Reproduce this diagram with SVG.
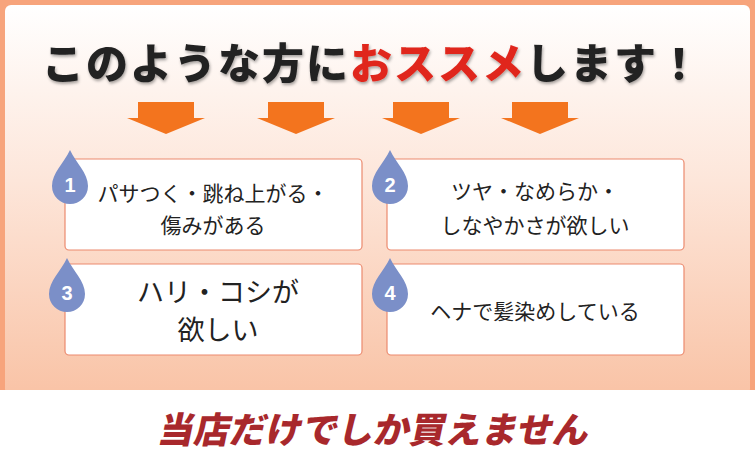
<svg xmlns="http://www.w3.org/2000/svg" width="755" height="465" viewBox="0 0 755 465">
<defs>
<linearGradient id="bg" x1="0" y1="0" x2="0" y2="1"><stop offset="0" stop-color="#ffffff"/><stop offset="0.45" stop-color="#fde6da"/><stop offset="1" stop-color="#f9c3a6"/></linearGradient>
<filter id="sh" x="-5%" y="-20%" width="110%" height="150%"><feDropShadow dx="1" dy="2" stdDeviation="1.5" flood-color="#000" flood-opacity="0.35"/></filter>
<path id="arr" d="M-28,0 H28 V16 H39 L0,32 L-39,16 H-28 Z" fill="#f3741e"/>
<path id="drop" d="M0,-33 C6,-20 18,-10 18,3 A18,18 0 0 1 -18,3 C-18,-10 -6,-20 0,-33 Z" fill="#7b8fc8"/>
</defs>
<style>
.box{fill:#fff;stroke:#ec8a6e;stroke-width:1.2}
.t{font-family:"Noto Sans CJK JP",sans-serif;font-size:21px;fill:#222;text-anchor:middle}
.big{font-size:27px}
.n{font-family:"Liberation Sans",sans-serif;font-weight:bold;font-size:20px;fill:#fff;text-anchor:middle}
</style>
<rect width="755" height="390" fill="#f7a47c"/>
<rect x="5" y="5" width="745" height="390" rx="6" fill="url(#bg)"/>
<rect x="0" y="390" width="755" height="75" fill="#fff"/>
<text x="372" y="79" font-family="Noto Sans CJK JP,sans-serif" font-weight="900" font-size="42" text-anchor="middle" fill="#222" filter="url(#sh)" letter-spacing="2">このような方に<tspan fill="#e0261c">おススメ</tspan>します！</text>
<g id="arrows">
<use href="#arr" x="166" y="102"/><use href="#arr" x="296" y="102"/><use href="#arr" x="421" y="102"/><use href="#arr" x="540" y="102"/>
</g>
<g id="n1"><rect class="box" x="65" y="159" width="297" height="91" rx="4"/><use href="#drop" x="70" y="183"/><text class="n" x="70" y="192">1</text>
<text class="t" x="213" y="201">パサつく・跳ね上がる・</text><text class="t" x="213" y="233">傷みがある</text></g>
<g id="n2"><rect class="box" x="387" y="159" width="297" height="91" rx="4"/><use href="#drop" x="390" y="183"/><text class="n" x="390" y="192">2</text>
<text class="t" x="535" y="199">ツヤ・なめらか・</text><text class="t" x="535" y="233">しなやかさが欲しい</text></g>
<g id="n3"><rect class="box" x="65" y="264" width="297" height="91" rx="4"/><use href="#drop" x="67" y="291"/><text class="n" x="67" y="300">3</text>
<text class="t big" x="218" y="302">ハリ・コシが</text><text class="t big" x="218" y="340">欲しい</text></g>
<g id="n4"><rect class="box" x="387" y="264" width="297" height="91" rx="4"/><use href="#drop" x="390" y="291"/><text class="n" x="390" y="300">4</text>
<text class="t" x="535" y="319">ヘナで髪染めしている</text></g>
<text x="372" y="443" font-family="Noto Sans CJK JP,sans-serif" font-weight="900" font-size="36" text-anchor="middle" fill="#a8282c" transform="skewX(-12) translate(94,0)">当店だけでしか買えません</text>
</svg>
